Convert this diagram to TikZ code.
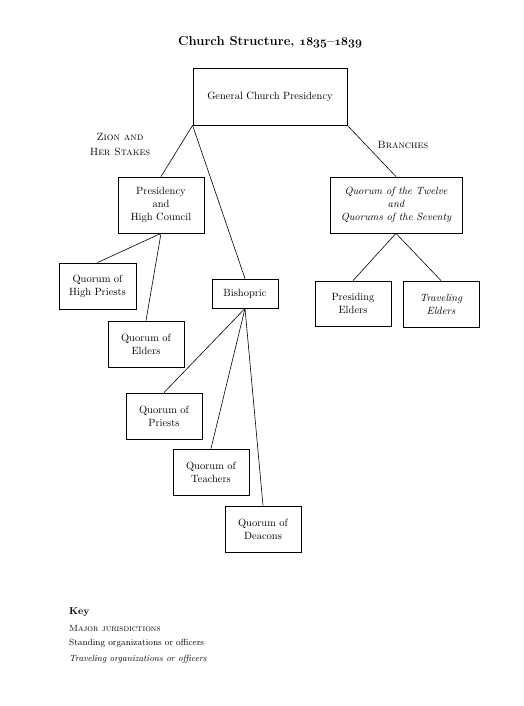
\documentclass[tikz,border=0pt]{standalone}
\begin{document}
\begin{tikzpicture}[x=1pt,y=-1pt,
  box/.style={draw, line width=0.8pt, rectangle, align=center, inner sep=1pt, font=\fontsize{10.5}{13}\selectfont},
  conn/.style={line width=0.6pt},
  lbl/.style={align=center, font=\fontsize{10.5}{15}\selectfont},
  keytxt/.style={anchor=west, inner sep=0pt, font=\fontsize{9}{11}\selectfont}]
\useasboundingbox (0,0) rectangle (523,706);
\node[font=\bfseries\fontsize{13}{15}\selectfont] (title) at (270,42) {Church Structure, {\boldmath$\mathnormal{1835}$}--{\boldmath$\mathnormal{1839}$}};
\node[box, minimum width=154pt, minimum height=57pt] (gcp) at (270,96.5) {General Church Presidency};
\node[box, minimum width=86pt, minimum height=56pt] (pres) at (161,205) {Presidency\\and\\High Council};
\node[box, minimum width=132pt, minimum height=56pt] (twelve) at (396,205) {\itshape Quorum of the Twelve\\\itshape and\\\itshape Quorums of the Seventy};
\node[box, minimum width=77pt, minimum height=46pt] (hp) at (97.5,286) {Quorum of\\High Priests};
\node[box, minimum width=76pt, minimum height=46pt] (elders) at (146,344) {Quorum of\\Elders};
\node[box, minimum width=66pt, minimum height=29pt] (bish) at (245,293.5) {Bishopric};
\node[box, minimum width=76pt, minimum height=45pt] (presiding) at (353,303.5) {Presiding\\Elders};
\node[box, minimum width=76pt, minimum height=46pt] (traveling) at (441,304) {\itshape Traveling\\\itshape Elders};
\node[box, minimum width=76pt, minimum height=46pt] (priests) at (164,416) {Quorum of\\Priests};
\node[box, minimum width=76pt, minimum height=46pt] (teachers) at (211,472) {Quorum of\\Teachers};
\node[box, minimum width=76pt, minimum height=46pt] (deacons) at (263,529) {Quorum of\\Deacons};
\node[lbl] (zion) at (120,144.5) {\textsc{Zion and}\\\textsc{Her Stakes}};
\node[lbl] (branches) at (403,145) {\textsc{Branches}};
\draw[conn] (gcp.south west) -- (pres.north);
\draw[conn] (gcp.south west) -- (bish.north);
\draw[conn] (gcp.south east) -- (twelve.north);
\draw[conn] (pres.south) -- (hp.north);
\draw[conn] (pres.south) -- (elders.north);
\draw[conn] (twelve.south) -- (presiding.north);
\draw[conn] (twelve.south) -- (traveling.north);
\draw[conn] (bish.south) -- (priests.north);
\draw[conn] (bish.south) -- (teachers.north);
\draw[conn] (bish.south) -- (deacons.north);
\node[keytxt, font=\bfseries\fontsize{10}{12}\selectfont] (key) at (69,612.5) {Key};
\node[keytxt] (k1) at (69,628.5) {\textsc{Major jurisdictions}};
\node[keytxt] (k2) at (69,643) {Standing organizations or officers};
\node[keytxt] (k3) at (69,659) {\itshape Traveling organizations or officers};
\end{tikzpicture}
\end{document}
